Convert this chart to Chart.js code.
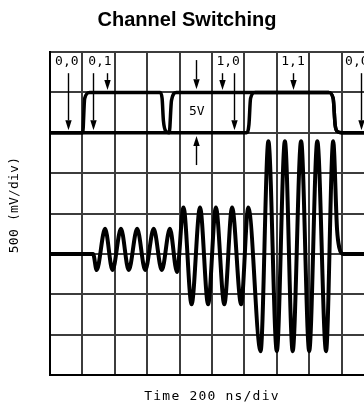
<!DOCTYPE html>
<html>
<head>
<meta charset="utf-8">
<script src="https://cdn.jsdelivr.net/npm/chart.js@4.4.1/dist/chart.umd.min.js"></script>
<style>
  html, body { margin: 0; padding: 0; background: #fff; overflow: hidden; }
  #wrap { width: 364px; height: 410px; overflow: hidden; }
</style>
</head>
<body>
<div id="wrap"><canvas id="scope" width="384" height="410"></canvas></div>
<script>
// analog signal on the switched channel (x in div, y in div from bottom)
const sigX = [0, 1.33, 1.44, 1.70, 1.93, 2.19, 2.43, 2.69, 2.94, 3.20, 3.45, 3.70,
              3.92, 4.12, 4.37, 4.63, 4.88, 5.12, 5.38, 5.62, 5.90, 6.12,
              6.50, 6.74, 7.00, 7.25, 7.49, 7.75, 8.00, 8.25, 8.52, 8.74,
              8.86, 8.93, 9.05, 10];
const sigY = [3.0, 3.0, 2.60, 3.62, 2.60, 3.62, 2.60, 3.62, 2.60, 3.62, 2.60, 3.62,
              2.55, 4.15, 1.75, 4.15, 1.75, 4.15, 1.75, 4.15, 1.75, 4.15,
              0.59, 5.79, 0.59, 5.79, 0.59, 5.79, 0.59, 5.79, 0.59, 5.79,
              3.6, 3.15, 3.0, 3.0];

// channel select bits (logic trace, low = 6 div, high = 7 div)
const bitAX = [0, 3.68, 3.75, 3.90, 8.60, 8.74, 8.80, 8.87, 9.0, 10];
const bitAY = [6, 6, 6.8, 7, 7, 6.85, 6.2, 6.03, 6, 6];
const bitBX = [0, 1.01, 1.07, 1.22, 3.40, 3.46, 3.50, 3.58, 3.68, 6.07, 6.14, 6.19, 6.33,
               8.60, 8.74, 8.80, 8.87, 9.0, 10];
const bitBY = [6, 6, 6.85, 7, 7, 6.85, 6.3, 6.03, 6, 6, 6.2, 6.85, 7,
               7, 6.85, 6.2, 6.03, 6, 6];

// state labels over the logic trace
const stateLabels = ["0,0", "0,1", "1,0", "1,1", "0,0"];
const stateX = [0.52, 1.54, 5.50, 7.50, 9.47];
const stateY = 7.77;

// marker arrows: x, start, tip (div)
const arrowX    = [0.565, 1.34, 1.75, 4.50, 4.50, 5.32, 5.69, 7.51, 9.59];
const arrowFrom = [7.475, 7.475, 7.475, 7.80, 5.20, 7.475, 7.475, 7.475, 7.475];
const arrowTo   = [6.06, 6.06, 7.06, 7.08, 5.92, 7.06, 6.06, 7.06, 6.06];

const ampLabel = "5V";
const ampX = 4.53, ampY = 6.52;

const xTitle = "Time 200 ns/div";
const yTitle = "500 (mV/div)";

function pts(xs, ys) { return xs.map((v, i) => ({ x: v, y: ys[i] })); }

function drawArrow(ctx, px, y0, y1) {
  const dir = y1 > y0 ? 1 : -1;
  const head = 10, half = 3.2;
  ctx.beginPath();
  ctx.moveTo(px, y0);
  ctx.lineTo(px, y1 - dir * head);
  ctx.stroke();
  ctx.beginPath();
  ctx.moveTo(px, y1);
  ctx.lineTo(px - half, y1 - dir * head);
  ctx.lineTo(px + half, y1 - dir * head);
  ctx.closePath();
  ctx.fill();
}

const scopeMarks = {
  id: 'scopeMarks',
  afterDatasetsDraw(chart) {
    const { ctx, scales: { x, y } } = chart;
    ctx.save();
    ctx.strokeStyle = '#000';
    ctx.fillStyle = '#000';
    ctx.lineWidth = 1.4;
    arrowX.forEach((ax, i) => {
      drawArrow(ctx, Math.round(x.getPixelForValue(ax)) + 0.5,
        y.getPixelForValue(arrowFrom[i]), y.getPixelForValue(arrowTo[i]));
    });
    ctx.font = '13px "DejaVu Sans Mono", monospace';
    ctx.textAlign = 'center';
    ctx.textBaseline = 'middle';
    stateLabels.forEach((t, i) => {
      ctx.fillText(t, x.getPixelForValue(stateX[i]), y.getPixelForValue(stateY));
    });
    ctx.fillText(ampLabel, x.getPixelForValue(ampX), y.getPixelForValue(ampY));
    ctx.restore();
  },
  afterDraw(chart) {
    const { ctx, chartArea } = chart;
    ctx.save();
    ctx.fillStyle = '#000';
    ctx.font = '13px "DejaVu Sans Mono", monospace';
    ctx.textAlign = 'center';
    ctx.textBaseline = 'middle';
    ctx.letterSpacing = '1.2px';
    ctx.fillText(xTitle, (chartArea.left + chartArea.right) / 2, 397);
    ctx.letterSpacing = '0.2px';
    ctx.translate(15, 205);
    ctx.rotate(-Math.PI / 2);
    ctx.fillText(yTitle, 0, 0);
    ctx.restore();
  }
};

const gridStyle = { color: '#3c3c3c', lineWidth: 2, drawTicks: false };
const borderStyle = { display: true, color: '#000', width: 2 };

new Chart(document.getElementById('scope'), {
  type: 'line',
  data: {
    datasets: [
      { data: pts(sigX, sigY), borderColor: '#000', borderWidth: 4 },
      { data: pts(bitAX, bitAY), borderColor: '#000', borderWidth: 3.5 },
      { data: pts(bitBX, bitBY), borderColor: '#000', borderWidth: 3.5 }
    ]
  },
  options: {
    responsive: false,
    animation: false,
    events: [],
    elements: {
      point: { radius: 0 },
      line: { cubicInterpolationMode: 'monotone', fill: false, borderJoinStyle: 'round', borderCapStyle: 'round' }
    },
    layout: { padding: { left: 0, right: 10, top: 0, bottom: 0 } },
    plugins: {
      legend: { display: false },
      tooltip: { enabled: false },
      title: {
        display: true,
        text: 'Channel Switching',
        color: '#000',
        font: { family: '"Liberation Sans", Arial, sans-serif', size: 20, weight: 'bold', lineHeight: 1.2 },
        padding: { top: 8, bottom: 20 }
      }
    },
    scales: {
      x: {
        type: 'linear', min: 0, max: 10,
        ticks: { display: false, stepSize: 1 },
        grid: gridStyle, border: borderStyle,
        afterFit(s) { s.height = 35; }
      },
      y: {
        type: 'linear', min: 0, max: 8,
        ticks: { display: false, stepSize: 1 },
        grid: gridStyle, border: borderStyle,
        afterFit(s) { s.width = 50; }
      }
    }
  },
  plugins: [scopeMarks]
});
</script>
</body>
</html>
